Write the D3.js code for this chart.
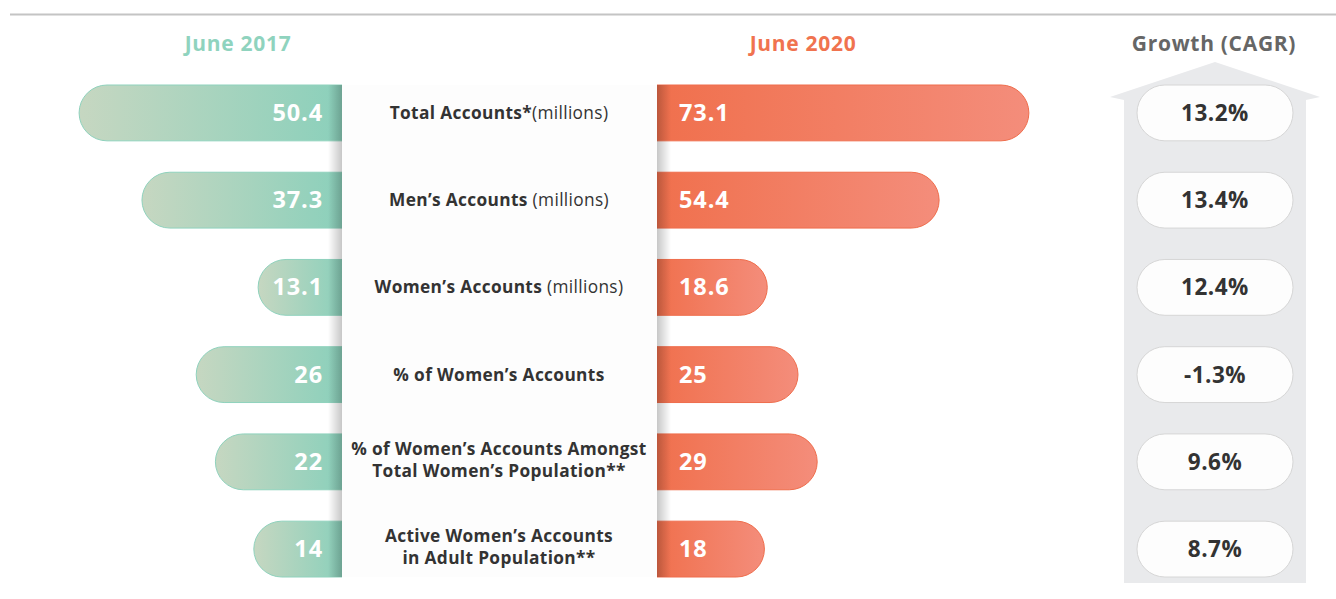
<!DOCTYPE html>
<html>
<head>
<meta charset="utf-8">
<script src="https://cdn.jsdelivr.net/npm/d3@7"></script>
<style>
  html, body { margin: 0; padding: 0; background: #fff; }
  svg { display: block; }
  text { font-family: "Open Sans", "Lato", sans-serif; }
</style>
</head>
<body>
<svg id="chart" width="1336" height="599"></svg>
<script>
// ---- data ----
const labelBold = ["Total Accounts*", "Men’s Accounts", "Women’s Accounts", "% of Women’s Accounts", "% of Women’s Accounts Amongst|Total Women’s Population**", "Active Women’s Accounts|in Adult Population**"];
const labelRegular = ["(millions)", " (millions)", " (millions)", "", "", ""];
const values2017 = [50.4, 37.3, 13.1, 26, 22, 14];
const values2020 = [73.1, 54.4, 18.6, 25, 29, 18];
const growth = ["13.2%", "13.4%", "12.4%", "-1.3%", "9.6%", "8.7%"];
const headers = ["June 2017", "June 2020", "Growth (CAGR)"];

// ---- layout ----
const svg = d3.select("#chart");
const W = 1336, H = 599;
const panelL = 342, panelR = 657;
const idx = d3.range(values2017.length);

const y = d3.scaleBand().domain(idx).range([85, 577]).paddingInner(0.36).paddingOuter(0);
const len = d3.scaleLinear().domain([0, 80]).range([21, 21 + 384]);

const defs = svg.append("defs");
const gL = defs.append("linearGradient").attr("id", "gradL").attr("x1", 0).attr("x2", 1).attr("y1", 0).attr("y2", 0);
gL.append("stop").attr("offset", 0).attr("stop-color", "#c6d7c1");
gL.append("stop").attr("offset", 1).attr("stop-color", "#8bd0bb");
const gR = defs.append("linearGradient").attr("id", "gradR").attr("x1", 0).attr("x2", 1).attr("y1", 0).attr("y2", 0);
gR.append("stop").attr("offset", 0).attr("stop-color", "#f0704d");
gR.append("stop").attr("offset", 1).attr("stop-color", "#f48d7b");
const sL = defs.append("linearGradient").attr("id", "shL").attr("x1", 0).attr("x2", 1).attr("y1", 0).attr("y2", 0);
sL.append("stop").attr("offset", 0).attr("stop-color", "#000").attr("stop-opacity", 0);
sL.append("stop").attr("offset", 1).attr("stop-color", "#000").attr("stop-opacity", 0.22);
const sR = defs.append("linearGradient").attr("id", "shR").attr("x1", 0).attr("x2", 1).attr("y1", 0).attr("y2", 0);
sR.append("stop").attr("offset", 0).attr("stop-color", "#000").attr("stop-opacity", 0.22);
sR.append("stop").attr("offset", 1).attr("stop-color", "#000").attr("stop-opacity", 0);

// top rule
svg.append("line").attr("x1", 10).attr("x2", W).attr("y1", 14.5).attr("y2", 14.5)
  .attr("stroke", "#c4c4c4").attr("stroke-width", 2);

// headers
const headerX = [238, 803, 1214];
const headerColor = ["#8fd3be", "#f0734f", "#666666"];
svg.selectAll("text.hdr").data(headers).join("text").attr("class", "hdr")
  .attr("x", (d, i) => headerX[i]).attr("y", 51)
  .attr("text-anchor", "middle").attr("font-size", 21).attr("font-weight", 700)
  .attr("letter-spacing", 0.7)
  .attr("fill", (d, i) => headerColor[i]).text(d => d);

// growth arrow
const ax0 = 1124, ax1 = 1306, axc = 1215;
svg.append("path")
  .attr("d", `M${axc},62 L1320,97 L1306,100 V583 H${ax0} V100 L1110,97 Z`)
  .attr("fill", "#e9eaec");

// left bars
const bh = y.bandwidth(), r = bh / 2;
svg.selectAll("path.barL").data(values2017).join("path").attr("class", "barL")
  .attr("d", (d, i) => {
    const x0 = panelL - len(d), y0 = y(i), y1 = y0 + bh;
    return `M${panelL},${y0} H${x0 + r} A${r},${r} 0 0 0 ${x0 + r},${y1} H${panelL} Z`;
  })
  .attr("fill", "url(#gradL)").attr("stroke", "#8fd2bd").attr("stroke-width", 1);

// right bars
svg.selectAll("path.barR").data(values2020).join("path").attr("class", "barR")
  .attr("d", (d, i) => {
    const x1 = panelR + len(d), y0 = y(i), y1 = y0 + bh;
    return `M${panelR},${y0} H${x1 - r} A${r},${r} 0 0 1 ${x1 - r},${y1} H${panelR} Z`;
  })
  .attr("fill", "url(#gradR)").attr("stroke", "#ef6d4c").attr("stroke-width", 1);

// panel shadows + panel
const pTop = y(0), pBot = y(idx.length - 1) + bh;
svg.append("rect").attr("x", panelL - 14).attr("y", pTop).attr("width", 14).attr("height", pBot - pTop).attr("fill", "url(#shL)");
svg.append("rect").attr("x", panelR).attr("y", pTop).attr("width", 14).attr("height", pBot - pTop).attr("fill", "url(#shR)");
svg.append("rect").attr("x", panelL).attr("y", pTop).attr("width", panelR - panelL).attr("height", pBot - pTop).attr("fill", "#fdfdfd");

// value labels
svg.selectAll("text.vL").data(values2017).join("text").attr("class", "vL")
  .attr("x", 323).attr("y", (d, i) => y(i) + bh / 2 + 8)
  .attr("text-anchor", "end").attr("font-size", 23.5).attr("font-weight", 700)
  .attr("letter-spacing", 0.9)
  .attr("fill", "#fff").text(d => d);
svg.selectAll("text.vR").data(values2020).join("text").attr("class", "vR")
  .attr("x", 679).attr("y", (d, i) => y(i) + bh / 2 + 8)
  .attr("text-anchor", "start").attr("font-size", 23.5).attr("font-weight", 700)
  .attr("letter-spacing", 0.9)
  .attr("fill", "#fff").text(d => d);

// center labels
const cx = 499;
labelBold.forEach((lb, i) => {
  const lines = lb.split("|");
  const cy = y(i) + bh / 2;
  const t = svg.append("text").attr("text-anchor", "middle").attr("font-size", 17.3)
    .attr("letter-spacing", 0.35).attr("fill", "#333");
  if (lines.length === 1) {
    t.attr("x", cx).attr("y", cy + 6);
    t.append("tspan").attr("font-weight", 700).text(lines[0]);
    if (labelRegular[i]) t.append("tspan").attr("font-weight", 400).text(labelRegular[i]);
  } else {
    lines.forEach((ln, k) => {
      t.append("tspan").attr("x", cx).attr("y", cy - 7 + k * 22).attr("font-weight", 700).text(ln);
    });
  }
});

// growth pills
const px0 = 1137, px1 = 1293;
svg.selectAll("rect.pill").data(growth).join("rect").attr("class", "pill")
  .attr("x", px0).attr("y", (d, i) => y(i)).attr("width", px1 - px0).attr("height", bh)
  .attr("rx", bh / 2).attr("ry", bh / 2)
  .attr("fill", "#fdfdfd").attr("stroke", "#d6d6d6").attr("stroke-width", 1);
svg.selectAll("text.gv").data(growth).join("text").attr("class", "gv")
  .attr("x", (px0 + px1) / 2).attr("y", (d, i) => y(i) + bh / 2 + 8)
  .attr("text-anchor", "middle").attr("font-size", 22.5).attr("font-weight", 700)
  .attr("letter-spacing", 0.5)
  .attr("fill", "#333").text(d => d);
</script>
</body>
</html>
